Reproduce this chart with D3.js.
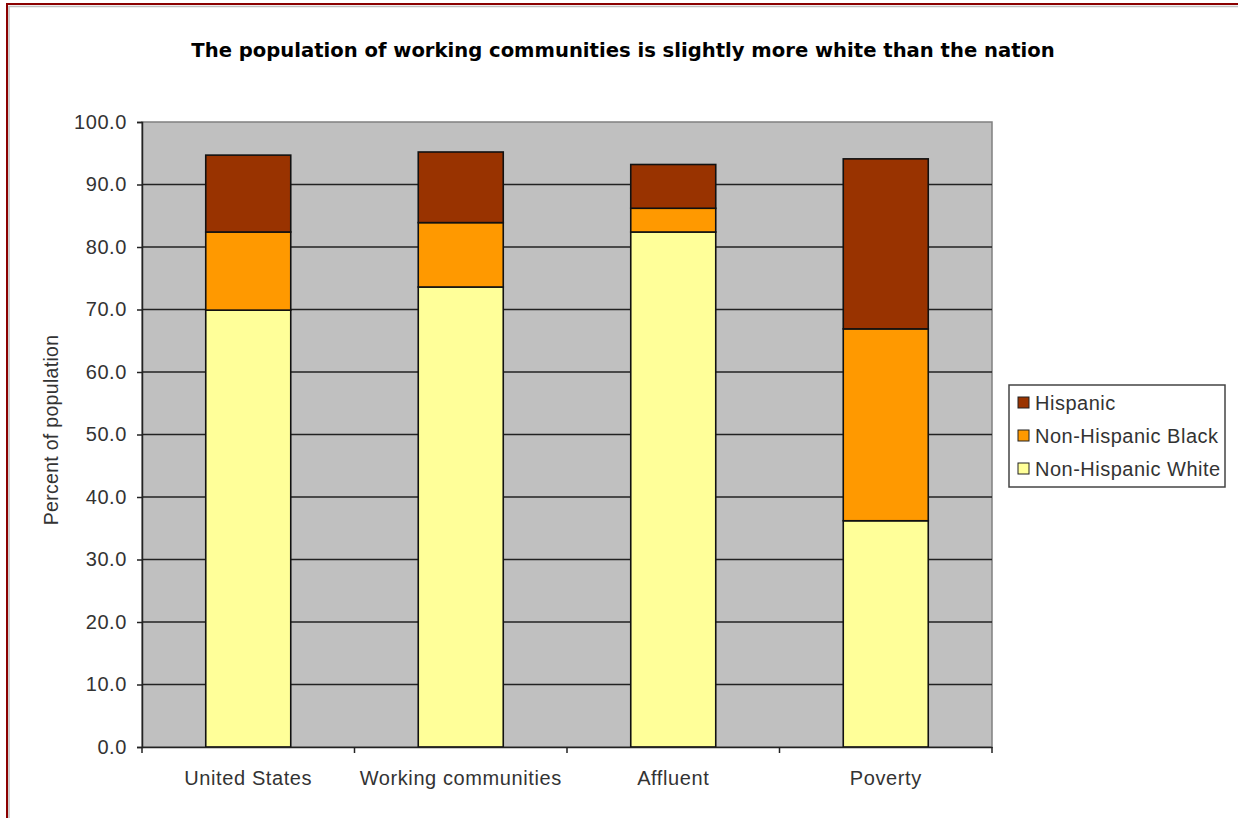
<!DOCTYPE html>
<html>
<head>
<meta charset="utf-8">
<script src="https://cdn.jsdelivr.net/npm/d3@7"></script>
<style>
  body { margin: 0; background: #fff; }
  svg { display: block; }
</style>
</head>
<body>
<div id="chart"></div>
<script>
// chart data
var categories = ["United States", "Working communities", "Affluent", "Poverty"];
var seriesNames = ["Non-Hispanic White", "Non-Hispanic Black", "Hispanic"];
var whiteVals = [69.9, 73.6, 82.4, 36.2];
var blackVals = [12.5, 10.3, 3.8, 30.7];
var hispanicVals = [12.3, 11.3, 7.0, 27.2];
var yTicks = [0, 10, 20, 30, 40, 50, 60, 70, 80, 90, 100];
var colors = {"Non-Hispanic White": "#ffff99", "Non-Hispanic Black": "#ff9900", "Hispanic": "#993300"};

var W = 1238, H = 818;
var margin = {left: 142, right: 246, top: 122, bottom: 71};
var font = "Liberation Sans, Arial, sans-serif";

var svg = d3.select("#chart").append("svg").attr("width", W).attr("height", H);

// outer frame
svg.append("rect").attr("x", 7).attr("y", 4).attr("width", W + 10).attr("height", H + 10)
   .attr("fill", "none").attr("stroke", "#8b0000").attr("stroke-width", 2);
svg.append("path").attr("d", "M9,820V6.5H1240").attr("fill", "none").attr("stroke", "#c0c0c0").attr("stroke-width", 1.5);

svg.append("text")
   .attr("x", 623).attr("y", 57)
   .attr("text-anchor", "middle")
   .attr("font-family", "DejaVu Sans, Verdana, sans-serif")
   .attr("font-weight", "bold")
   .attr("font-size", 19.6)
   .attr("fill", "#000")
   .text("The population of working communities is slightly more white than the nation");

var plotW = W - margin.left - margin.right;
var plotH = H - margin.top - margin.bottom;

var x = d3.scaleBand().domain(categories).range([0, plotW]).paddingInner(0.6).paddingOuter(0.3);
var xb = d3.scaleBand().domain(categories).range([0, plotW]);
var y = d3.scaleLinear().domain([0, 100]).range([plotH, 0]);

var g = svg.append("g").attr("transform", "translate(" + margin.left + "," + margin.top + ")");

g.append("rect").attr("width", plotW).attr("height", plotH).attr("fill", "#c0c0c0")
 .attr("stroke", "#808080").attr("stroke-width", 1.5);

// gridlines
g.selectAll(".grid").data(yTicks.filter(function(d){ return d > 0 && d < 100; }))
 .enter().append("line")
 .attr("x1", 0).attr("x2", plotW)
 .attr("y1", function(d){ return y(d); }).attr("y2", function(d){ return y(d); })
 .attr("stroke", "#222").attr("stroke-width", 1.5);

// stacked bars
var table = categories.map(function(c, i){
  return {cat: c, "Non-Hispanic White": whiteVals[i], "Non-Hispanic Black": blackVals[i], "Hispanic": hispanicVals[i]};
});
var stack = d3.stack().keys(seriesNames)(table);

g.selectAll(".series").data(stack).enter().append("g")
 .attr("fill", function(d){ return colors[d.key]; })
 .selectAll("rect").data(function(d){ return d; }).enter().append("rect")
 .attr("x", function(d){ return x(d.data.cat); })
 .attr("width", x.bandwidth())
 .attr("y", function(d){ return y(d[1]); })
 .attr("height", function(d){ return y(d[0]) - y(d[1]); })
 .attr("stroke", "#111").attr("stroke-width", 1.6);

// y axis
var yAxis = d3.axisLeft(y).tickValues(yTicks).tickSize(5).tickFormat(d3.format(".1f"));
var ya = g.append("g").call(yAxis);
ya.select(".domain").attr("stroke", "#222").attr("stroke-width", 1.5);
ya.selectAll(".tick line").attr("stroke", "#222").attr("stroke-width", 1.5);
ya.selectAll("text").attr("font-family", font).attr("letter-spacing", 0.6)
  .attr("font-size", 20).attr("fill", "#333").attr("x", -15);

// x axis
var xAxis = d3.axisBottom(xb).tickSize(0);
var xa = g.append("g").attr("transform", "translate(0," + plotH + ")").call(xAxis);
xa.select(".domain").attr("stroke", "#222").attr("stroke-width", 1.5);
xa.selectAll("text").attr("font-family", font).attr("letter-spacing", 0.6)
  .attr("font-size", 20).attr("fill", "#333").attr("dy", 0).attr("y", 38);
xa.selectAll(".sep").data(d3.range(categories.length + 1)).enter().append("line")
  .attr("x1", function(i){ return i * xb.step(); }).attr("x2", function(i){ return i * xb.step(); })
  .attr("y1", 0).attr("y2", 6).attr("stroke", "#222").attr("stroke-width", 1.5);

// y label
svg.append("text")
   .attr("transform", "translate(58,430) rotate(-90)")
   .attr("text-anchor", "middle")
   .attr("font-family", font).attr("letter-spacing", 0.3)
   .attr("font-size", 19.5).attr("fill", "#333")
   .text("Percent of population");

// legend
var lg = svg.append("g").attr("transform", "translate(1009,385)");
lg.append("rect").attr("width", 216).attr("height", 102).attr("fill", "#fff")
  .attr("stroke", "#444").attr("stroke-width", 1.5);
var legendOrder = seriesNames.slice().reverse();
var items = lg.selectAll(".item").data(legendOrder).enter().append("g")
  .attr("transform", function(d, i){ return "translate(9," + (18 + i * 33) + ")"; });
items.append("rect").attr("x", 0).attr("y", -6).attr("width", 11).attr("height", 11)
  .attr("fill", function(d){ return colors[d]; }).attr("stroke", "#222").attr("stroke-width", 1);
items.append("text").attr("x", 17).attr("y", 0).attr("dy", "0.35em")
  .attr("font-family", font).attr("letter-spacing", 0.5)
  .attr("font-size", 20).attr("fill", "#333")
  .text(function(d){ return d; });
</script>
</body>
</html>
